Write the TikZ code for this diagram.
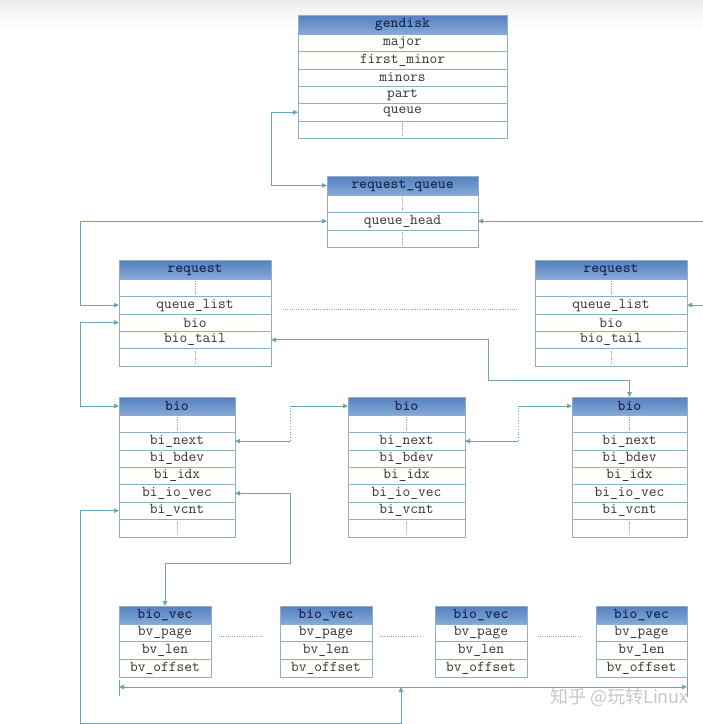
\documentclass[tikz,border=0pt]{standalone}
\usepackage{fontspec}
\newfontfamily\cjk{Noto Sans CJK SC}
\usetikzlibrary{arrows.meta,calc}
\definecolor{boxcol}{HTML}{8DB0C4}
\definecolor{conncol}{HTML}{6AA6BA}
\definecolor{hdrtop}{HTML}{5580BF}
\definecolor{hdrbot}{HTML}{86A9D8}
\definecolor{hdrtext}{HTML}{1A2A55}
\definecolor{dotcol}{HTML}{9AA4AC}
\newcommand\vd{\tikz[baseline=-3.5pt]\draw[dotcol,line width=0.7pt,dash pattern=on 0.8pt off 1pt](0pt,-6.5pt)--(0pt,6.5pt);}
\newcommand\mkbox[7]{%
  \node[hdr,minimum width=#3,minimum height=#4,anchor=north west] (#1) at #2 {#6};
  \xdef\prevnode{#1}%
  \foreach \f [count=\i] in {#7}{%
    \node[fld,minimum width=#3,minimum height=#5,anchor=north] (#1-\i) at (\prevnode.south) {\f};
    \xdef\prevnode{#1-\i}%
  }%
}
\tikzset{
  fld/.style={draw=boxcol,line width=0.6pt,fill=white,inner sep=0pt,outer sep=0pt,
    font=\ttfamily\fontsize{15}{15}\selectfont,text=black!80},
  hdr/.style={draw=boxcol,line width=0.6pt,inner sep=0pt,outer sep=0pt,
    top color=hdrtop,bottom color=hdrbot,
    font=\ttfamily\bfseries\fontsize{15}{15}\selectfont,text=hdrtext},
  conn/.style={draw=conncol,line width=0.9pt,>={Triangle[length=5pt,width=4.5pt]}},
  dotline/.style={draw=dotcol,line width=0.8pt,dash pattern=on 0.9pt off 1.3pt},
}
\begin{document}
\begin{tikzpicture}[x=1pt,y=-1pt]
\useasboundingbox (0,0) rectangle (703,724);
\clip (0,0) rectangle (703,724);
\shade[top color=black!7,bottom color=white] (0,0) rectangle (703,28);

% structures
\mkbox{gd}{(298,15)}{209pt}{19pt}{17.4pt}{gendisk}{major,first\_minor,minors,part,queue,\vd}
\mkbox{rq}{(327,176)}{151pt}{19pt}{17.4pt}{request\_queue}{\vd,queue\_head,\vd}
\mkbox{rL}{(119,260)}{152pt}{19pt}{17.4pt}{request}{\vd,queue\_list,bio,bio\_tail,\vd}
\mkbox{rR}{(535,260)}{152pt}{19pt}{17.4pt}{request}{\vd,queue\_list,bio,bio\_tail,\vd}
\mkbox{bL}{(119,397)}{116pt}{18pt}{17.4pt}{bio}{\vd,bi\_next,bi\_bdev,bi\_idx,bi\_io\_vec,bi\_vcnt,\vd}
\mkbox{bM}{(348,397)}{117pt}{18pt}{17.4pt}{bio}{\vd,bi\_next,bi\_bdev,bi\_idx,bi\_io\_vec,bi\_vcnt,\vd}
\mkbox{bR}{(572,397)}{115pt}{18pt}{17.4pt}{bio}{\vd,bi\_next,bi\_bdev,bi\_idx,bi\_io\_vec,bi\_vcnt,\vd}
\mkbox{v1}{(119,606)}{92pt}{18pt}{17.6pt}{bio\_vec}{bv\_page,bv\_len,bv\_offset}
\mkbox{v2}{(280,606)}{92pt}{18pt}{17.6pt}{bio\_vec}{bv\_page,bv\_len,bv\_offset}
\mkbox{v3}{(435,606)}{92pt}{18pt}{17.6pt}{bio\_vec}{bv\_page,bv\_len,bv\_offset}
\mkbox{v4}{(596,606)}{91pt}{18pt}{17.6pt}{bio\_vec}{bv\_page,bv\_len,bv\_offset}

% helper coordinates
\coordinate (lx) at (80,0);
\coordinate (rx) at (708,0);
\coordinate (m1) at (488,380);
\coordinate (c1) at (290,408);
\coordinate (c2) at (518,408);
\coordinate (c3) at (290,563);
\coordinate (c4) at (80,723);
\coordinate (bt) at (401,687);

% connectors
\draw[conn,<->] (gd-5.west) -- ++(-27,0) |- (rq.west);
\draw[conn,<->] (rq-2.west) -- (rq-2.west -| lx) |- (rL-2.west);
\draw[conn,<->] (rq-2.east) -- (rq-2.east -| rx) |- (rR-2.east);
\draw[conn,<->] (rL-3.west) -- (rL-3.west -| lx) |- (bL.west);
\draw[conn,<->] (rL-4.east) -| (m1) -| (bR.north);

\draw[conn,<-] (bL-2.east) -- (bL-2.east -| c1);
\draw[conn,dotted] (bL-2.east -| c1) -- (c1 |- bM.west);
\draw[conn,->] (c1 |- bM.west) -- (bM.west);
\draw[conn,<-] (bM-2.east) -- (bM-2.east -| c2);
\draw[conn,dotted] (bM-2.east -| c2) -- (c2 |- bR.west);
\draw[conn,->] (c2 |- bR.west) -- (bR.west);

\draw[conn,<->] (bL-5.east) -| (c3) -| (v1.north);
\draw[conn,<->] (bL-6.west) -| (c4) -| (bt);

\coordinate (bl) at (v1.south west |- bt);
\coordinate (br) at (v4.south east |- bt);
\draw[conn,<->] (bl) -- (br);
\draw[conn,line width=0.7pt] ($(bl)+(0,-7)$) -- ($(bl)+(0,9)$);
\draw[conn,line width=0.7pt] ($(br)+(0,-9)$) -- ($(br)+(0,10)$);

% dotted separators
\draw[dotline] ($(rL-2.east)+(12,4)$) -- ($(rR-2.west)+(-17,4)$);
\draw[dotline] ($(v1-1.east)+(8,4)$) -- ($(v2-1.west)+(-19,4)$);
\draw[dotline] ($(v2-1.east)+(8,4)$) -- ($(v3-1.west)+(-14,4)$);
\draw[dotline] ($(v3-1.east)+(11,4)$) -- ($(v4-1.west)+(-16,4)$);

% watermark
\node[anchor=west,inner sep=0pt,text=black!22,font=\cjk\fontsize{18}{18}\selectfont] (wm) at (550,697) {知乎 @玩转Linux};
\end{tikzpicture}
\end{document}
